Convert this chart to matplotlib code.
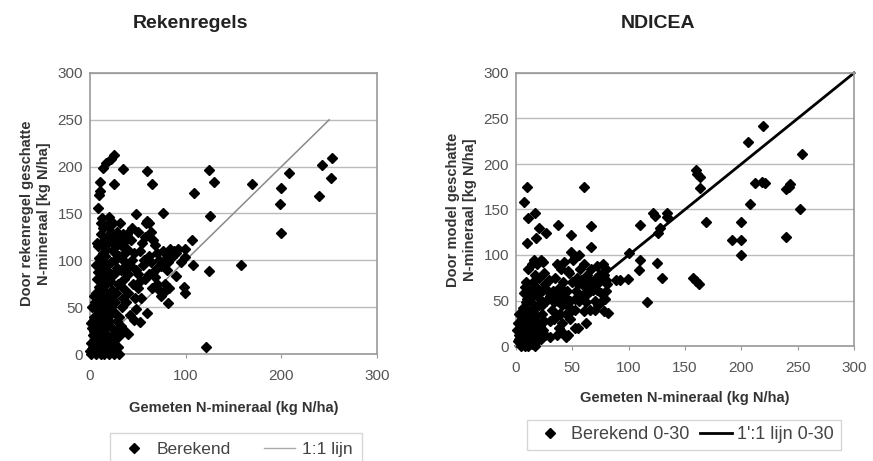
import matplotlib
matplotlib.use("Agg")
import matplotlib.pyplot as plt
from matplotlib.lines import Line2D

plt.rcParams['font.family'] = ['Liberation Sans', 'DejaVu Sans']

# ---------------- data: Rekenregels ----------------
rek_x = [25.5, 22, 17, 14, 35, 25, 10, 10, 9, 8, 60, 65, 109, 124, 130, 169, 200, 208, 199, 200,
         243, 253, 252, 239, 48, 76, 125, 107, 108, 124, 158, 121, 44, 99, 99, 98, 99, 90, 82, 76,
         60, 52, 40, 34,
         1, 2, 1, 3, 2, 1, 4, 2, 3, 5, 4, 0, 3, 5, 4,
         6, 7, 8, 6, 9, 7, 8, 6, 9, 7, 8, 6, 9, 8, 7, 10, 10, 9, 10,
         11, 12, 13, 11, 12, 14, 13, 11, 12, 14, 13, 11, 12, 14, 13, 12, 14, 11, 13, 15, 15, 15, 15, 15,
         16, 17, 18, 16, 17, 19, 18, 16, 17, 19, 18, 16, 17, 19, 18, 20, 20, 20, 20, 20,
         21, 22, 23, 21, 22, 24, 23, 21, 22, 24, 23, 22, 24, 25, 25, 25, 25, 23,
         26, 27, 28, 26, 27, 29, 28, 26, 27, 29, 28, 30, 30, 30, 26, 29,
         31, 32, 33, 35, 34, 36, 32, 38, 35, 37, 33, 36, 39, 34, 31, 38, 40, 40, 39,
         42, 44, 46, 48, 50, 52, 54, 56, 58, 45, 47, 50, 53, 55, 57, 59, 60, 43, 50, 52, 48, 42, 46,
         62, 64, 66, 68, 70, 72, 74, 62, 64, 66, 68, 70, 72, 74, 76, 78, 80, 82, 84, 86, 88, 90, 92,
         80, 62, 65, 78, 83, 70, 95]
rek_y = [212, 208, 204, 199, 197, 181, 184, 174, 170, 156, 195, 181, 172, 196, 184, 182, 177, 193, 160, 129,
         202, 209, 188, 169, 149, 150, 147, 122, 95, 89, 95, 8, 135, 112, 104, 72, 65, 83, 54, 65,
         44, 34, 21, 27,
         0, 5, 12, 20, 28, 33, 40, 50, 8, 15, 25, 3, 35, 55, 62,
         0, 10, 18, 30, 42, 48, 58, 65, 72, 80, 88, 95, 102, 115, 118, 5, 22, 35, 65,
         0, 8, 15, 25, 38, 45, 52, 60, 70, 78, 85, 92, 100, 108, 120, 128, 135, 140, 145, 0, 30, 55, 90, 115,
         5, 12, 20, 28, 40, 48, 58, 66, 75, 82, 95, 105, 112, 125, 138, 146, 0, 35, 62, 88,
         10, 18, 28, 42, 50, 58, 68, 78, 98, 110, 118, 130, 140, 0, 45, 85, 125, 5,
         15, 25, 35, 55, 65, 75, 92, 100, 115, 122, 130, 0, 40, 105, 3, 8,
         20, 30, 50, 60, 70, 80, 90, 95, 100, 108, 115, 120, 128, 128, 140, 55, 65, 85, 112,
         95, 100, 108, 90, 85, 110, 118, 100, 80, 75, 60, 70, 60, 95, 125, 140, 142, 122, 130, 78, 48, 42, 36,
         140, 130, 122, 116, 108, 100, 94, 105, 98, 88, 82, 75, 68, 62, 110, 100, 106, 98, 112, 104, 110, 108, 112,
         90, 85, 70, 75, 70, 92, 98]
rek_line = [0, 250]

# ---------------- data: NDICEA ----------------
ndi_x = [219, 206, 254, 160, 161, 163, 163, 212, 218, 221, 243, 242, 240, 208, 252, 169, 200, 192, 200, 200,
         240, 122, 123, 134, 134, 128, 110, 126, 100, 110, 109, 125, 130, 116, 157, 160, 162, 99, 92, 89,
         10, 7, 11, 17, 10, 20, 18, 27, 37, 67, 60, 67, 49, 49, 52,
         2, 3, 4, 2, 5, 6, 5, 7, 8, 7, 9, 8, 10, 11, 10, 12, 13, 12, 14, 15, 14, 16, 17, 16, 18, 19, 18, 20, 20,
         3, 4, 6, 9, 1, 5, 11, 13, 15, 17, 3, 4, 6, 7, 8, 9, 10, 11, 12, 13, 14, 15, 16, 18, 19, 21, 22, 23,
         24, 25, 26,
         7, 8, 10, 12, 11, 14, 15, 16, 18, 20, 20, 22, 24, 25, 26, 28, 27, 23, 21, 19, 17, 13, 9, 29, 30, 24,
         16, 14,
         32, 33, 34, 35, 36, 37, 38, 39, 40, 41, 42, 43, 44, 45, 46, 47, 48, 50, 51, 52, 53, 54, 55, 56, 57,
         58, 60, 61, 62, 63, 64, 65, 66, 67, 68, 70, 71, 72, 73, 74, 75, 76, 77, 78, 79, 80, 81, 82, 80, 76,
         60, 42, 44, 36, 30, 30, 34, 39, 46, 56, 48, 62, 52, 58, 69, 74, 66, 55, 38, 40, 45, 50, 35, 70, 72,
         78, 80, 52, 43, 41]
ndi_y = [242, 224, 211, 193, 189, 186, 174, 179, 180, 179, 178, 175, 172, 156, 150, 136, 136, 117, 117, 100,
         120, 146, 143, 146, 142, 130, 133, 124, 102, 94, 83, 91, 75, 48, 75, 71, 68, 74, 73, 73,
         175, 158, 141, 146, 113, 130, 119, 124, 133, 132, 175, 109, 122, 103, 98,
         5, 12, 20, 25, 8, 15, 30, 2, 10, 22, 18, 35, 5, 14, 28, 20, 8, 38, 2, 16, 30, 25, 10, 42, 20, 5, 33, 14, 45,
         35, 0, 42, 48, 18, 3, 0, 25, 5, 0, 8, 15, 6, 30, 0, 25, 40, 8, 12, 32, 18, 38, 3, 12, 28, 22, 8, 35,
         18, 28, 12,
         58, 65, 52, 62, 85, 55, 70, 60, 65, 58, 75, 95, 92, 80, 68, 60, 50, 45, 52, 90, 78, 48, 70, 72, 55, 62,
         95, 90,
         40, 60, 30, 75, 90, 50, 20, 65, 85, 45, 70, 92, 35, 60, 12, 80, 50, 70, 95, 40, 60, 75, 20, 50, 85,
         55, 38, 65, 48, 78, 58, 72, 40, 85, 62, 50, 75, 88, 45, 70, 58, 80, 90, 38, 52, 72, 68, 36, 85, 50,
         90, 14, 10, 12, 28, 10, 48, 35, 82, 100, 30, 25, 52, 72, 68, 78, 60, 68, 88, 60, 45, 40, 55, 40, 62,
         78, 60, 20, 55, 25]
ndi_line = [0, 300]

ticks_left_x = [0, 100, 200, 300]
ticks_y = [0, 50, 100, 150, 200, 250, 300]
ticks_right_x = [0, 50, 100, 150, 200, 250, 300]

# ---------------- figure ----------------
W, H = 873, 461
fig = plt.figure(figsize=(W / 100, H / 100), dpi=100)
fig.patch.set_facecolor('white')

tick_col = '#555555'
frame_col = '#999999'
grid_col = '#bbbbbb'
lab_col = '#333333'
MS = 5.5


def style(ax, xt):
    ax.set_xlim(0, 300)
    ax.set_ylim(0, 300)
    ax.set_xticks(xt)
    ax.set_yticks(ticks_y)
    ax.yaxis.grid(True, color=grid_col, linewidth=1.0)
    ax.set_axisbelow(True)
    for s in ax.spines.values():
        s.set_color(frame_col)
        s.set_linewidth(1.2)
    ax.tick_params(axis='both', colors=frame_col, labelcolor=tick_col, labelsize=11,
                   length=3, width=0.8, direction='out')
    ax.tick_params(axis='y', length=0, pad=5)
    ax.tick_params(axis='x', pad=8)


ax1 = fig.add_axes([90 / W, 1 - 354 / H, 287 / W, 281 / H])
style(ax1, ticks_left_x)
ax1.plot(rek_line, rek_line, color='#8a8a8a', linewidth=1.1, zorder=2)
ax1.plot(rek_x, rek_y, linestyle='none', marker='D', markersize=MS, color='black', zorder=3,
         clip_on=False)
ax1.set_xlabel('Gemeten N-mineraal (kg N/ha)', fontsize=10.5, fontweight='bold', color=lab_col,
               labelpad=13)
ax1.set_ylabel('Door rekenregel geschatte\nN-mineraal [kg N/ha]', fontsize=10.5, fontweight='bold',
               color=lab_col, labelpad=5)
fig.text(190 / W, 1 - 23 / H, 'Rekenregels', ha='center', va='center', fontsize=14,
         fontweight='bold', color='#222222')

ax2 = fig.add_axes([516 / W, 1 - 346 / H, 338 / W, 273 / H])
style(ax2, ticks_right_x)
ax2.plot(ndi_line, ndi_line, color='black', linewidth=2.0, zorder=2, clip_on=False)
ax2.plot(ndi_x, ndi_y, linestyle='none', marker='D', markersize=MS, color='black', zorder=3,
         clip_on=False)
ax2.set_xlabel('Gemeten N-mineraal (kg N/ha)', fontsize=10.5, fontweight='bold', color=lab_col,
               labelpad=11)
ax2.set_ylabel('Door model geschatte\nN-mineraal [kg N/ha]', fontsize=10.5, fontweight='bold',
               color=lab_col, labelpad=5)
fig.text(658 / W, 1 - 23 / H, 'NDICEA', ha='center', va='center', fontsize=14,
         fontweight='bold', color='#222222')

# legends
h1 = [Line2D([], [], linestyle='none', marker='D', markersize=MS, color='black'),
      Line2D([], [], color='#aaaaaa', linewidth=1.0)]
leg1 = fig.legend(h1, ['Berekend', '1:1 lijn'], loc='upper left',
                  bbox_to_anchor=(110 / W, 1 - 433 / H), ncol=2, frameon=True, fancybox=False,
                  fontsize=12.5, handlelength=1.8, columnspacing=1.9, borderpad=0.5,
                  borderaxespad=0, handletextpad=0.4, labelcolor='#444444')
leg1.get_frame().set_edgecolor('#cccccc')
leg1.get_frame().set_linewidth(1.0)

h2 = [Line2D([], [], linestyle='none', marker='D', markersize=MS, color='black'),
      Line2D([], [], color='black', linewidth=2.0)]
leg2 = fig.legend(h2, ['Berekend 0-30', "1':1 lijn 0-30"], loc='upper left',
                  bbox_to_anchor=(527 / W, 1 - 420 / H), ncol=2, frameon=True, fancybox=False,
                  fontsize=13, handlelength=1.8, columnspacing=0.55, borderpad=0.35,
                  borderaxespad=0, handletextpad=0.3, labelcolor='#444444')
leg2.get_frame().set_edgecolor('#cccccc')
leg2.get_frame().set_linewidth(1.0)

fig.savefig('out.png', dpi=100)
